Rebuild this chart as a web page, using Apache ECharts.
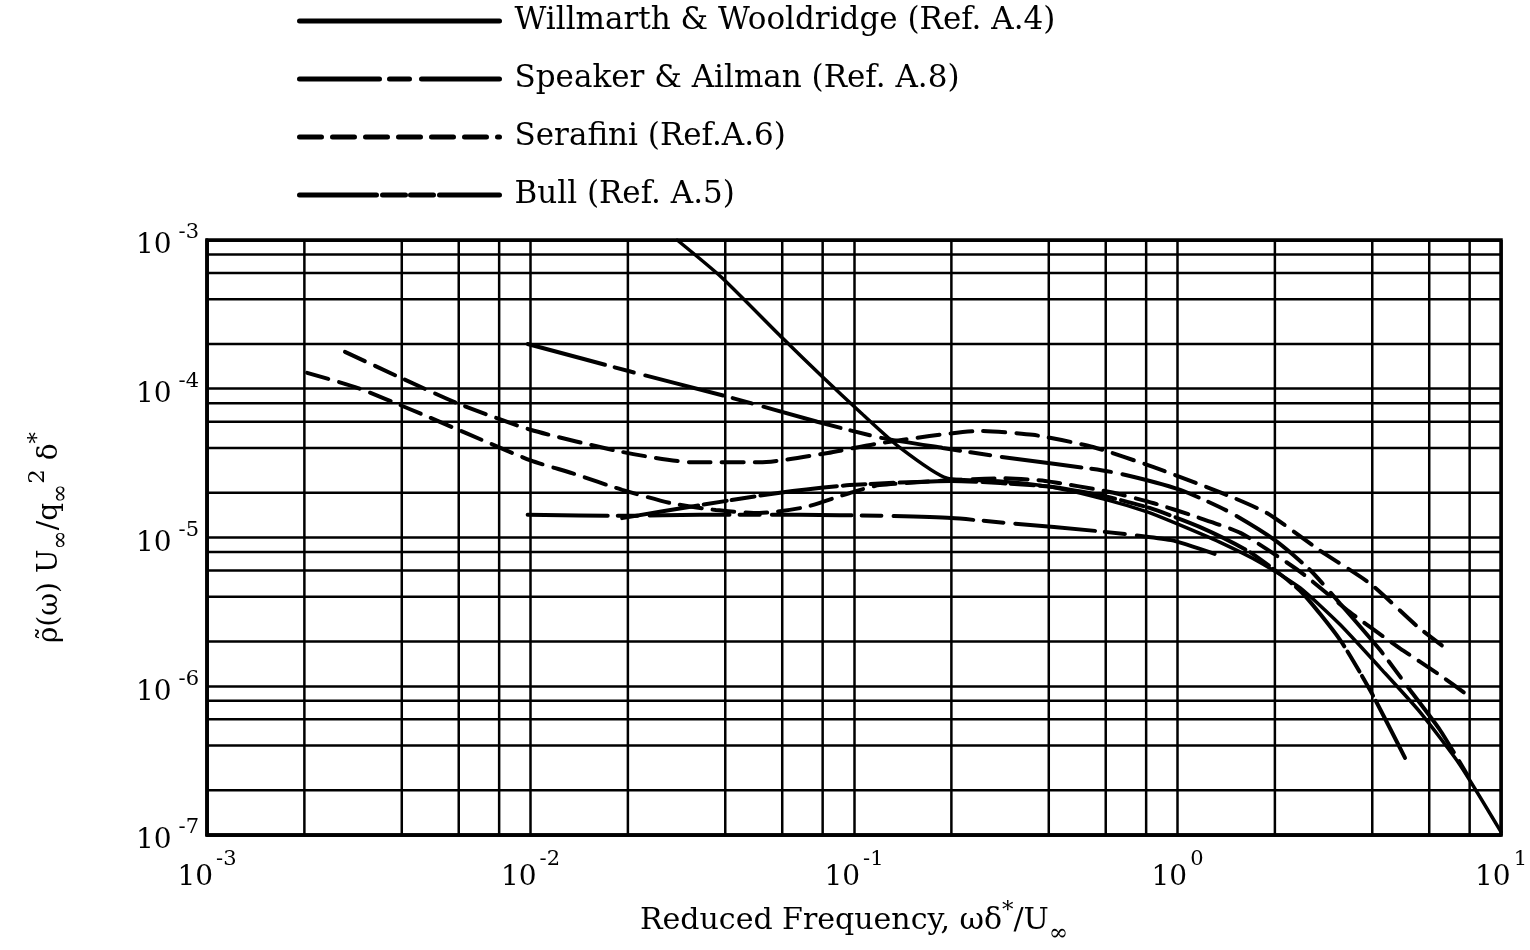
<!DOCTYPE html>
<html>
<head>
<meta charset="utf-8">
<script src="https://cdn.jsdelivr.net/npm/echarts/dist/echarts.min.js"></script>
<style>
  html, body { margin: 0; padding: 0; background: #fff; }
  #chart { width: 1530px; height: 950px; }
</style>
</head>
<body>
<div id="chart"></div>
<script>
// Reduced-frequency spectra of wall pressure fluctuations (log-log)

// Axis extents
const xRange = [0.001, 10];
const yRange = [1e-7, 1e-3];

// Minor grid positions inside each decade (2, 4, 6, 8 x 10^n)
const minorX = [2e-3, 4e-3, 6e-3, 8e-3, 2e-2, 4e-2, 6e-2, 8e-2, 0.2, 0.4, 0.6, 0.8, 2, 4, 6, 8];
const minorY = [2e-7, 4e-7, 6e-7, 8e-7, 2e-6, 4e-6, 6e-6, 8e-6, 2e-5, 4e-5, 6e-5, 8e-5, 2e-4, 4e-4, 6e-4, 8e-4];

// Legend names
const nameWW = 'Willmarth & Wooldridge (Ref. A.4)';
const nameSA = 'Speaker & Ailman (Ref. A.8)';
const nameSE = 'Serafini (Ref.A.6)';
const nameBU = 'Bull (Ref. A.5)';

// Willmarth & Wooldridge
const willmarth = [
  [0.0284, 1.0e-3], [0.039, 5.6e-4], [0.060, 2.2e-4], [0.080, 1.2e-4], [0.105, 6.9e-5],
  [0.139, 4.0e-5], [0.194, 2.5e-5], [0.28, 2.4e-5], [0.40, 2.2e-5], [0.605, 1.79e-5],
  [0.81, 1.48e-5], [1.02, 1.21e-5], [1.35, 9.3e-6], [1.8, 6.8e-6], [2.39, 4.6e-6],
  [3.18, 2.6e-6], [4.23, 1.33e-6], [5.62, 6.7e-7], [7.47, 2.96e-7], [10, 1.05e-7]
];

// Speaker & Ailman, upper curve
const speakerUpper = [
  [0.0098, 2.0e-4], [0.0205, 1.3e-4], [0.041, 8.8e-5], [0.077, 6.0e-5], [0.12, 4.7e-5],
  [0.188, 4.0e-5], [0.28, 3.5e-5], [0.63, 2.75e-5], [1.02, 2.09e-5], [1.45, 1.48e-5],
  [2.0, 9.6e-6], [2.57, 6.05e-6], [3.18, 3.6e-6], [4.23, 1.75e-6], [5.24, 9.4e-7],
  [6.47, 5.1e-7], [7.9, 2.5e-7]
];

// Speaker & Ailman, lower curve
const speakerLower = [
  [0.0098, 1.42e-5], [0.0197, 1.4e-5], [0.0334, 1.42e-5], [0.068, 1.42e-5], [0.12, 1.4e-5],
  [0.20, 1.35e-5], [0.30, 1.25e-5], [0.575, 1.1e-5], [0.955, 9.6e-6], [1.34, 7.6e-6]
];

// Serafini, upper curve
const serafiniUpper = [
  [0.00267, 1.77e-4], [0.00392, 1.2e-4], [0.00593, 8.0e-5], [0.010, 5.3e-5], [0.0192, 3.76e-5],
  [0.0318, 3.2e-5], [0.051, 3.2e-5], [0.083, 3.7e-5], [0.12, 4.3e-5], [0.245, 5.2e-5],
  [0.357, 4.9e-5], [0.548, 4.06e-5], [0.84, 2.98e-5], [1.35, 2.02e-5], [1.89, 1.46e-5],
  [2.75, 8.2e-6], [3.94, 4.9e-6], [5.54, 2.5e-6], [6.86, 1.75e-6]
];

// Serafini, lower curve
const serafiniLower = [
  [0.00204, 1.28e-4], [0.00293, 1.01e-4], [0.0043, 7.2e-5], [0.0063, 5.05e-5], [0.010, 3.3e-5],
  [0.0135, 2.7e-5], [0.0192, 2.09e-5], [0.0272, 1.7e-5], [0.0374, 1.53e-5], [0.051, 1.46e-5],
  [0.0706, 1.6e-5], [0.097, 1.99e-5], [0.12, 2.25e-5], [0.286, 2.5e-5], [0.39, 2.4e-5],
  [0.618, 2.02e-5], [0.845, 1.7e-5], [1.15, 1.37e-5], [1.57, 1.07e-5], [2.39, 5.9e-6],
  [3.41, 3.15e-6], [4.87, 1.8e-6], [6.47, 1.19e-6], [7.9, 8.7e-7]
];

// Bull
const bull = [
  [0.0192, 1.35e-5], [0.0334, 1.65e-5], [0.059, 2.0e-5], [0.097, 2.25e-5], [0.20, 2.4e-5],
  [0.40, 2.2e-5], [0.575, 1.93e-5], [0.82, 1.58e-5], [1.17, 1.18e-5], [1.67, 8.0e-6],
  [2.39, 4.4e-6], [3.18, 2.05e-6], [3.94, 9.4e-7], [5.05, 3.3e-7]
];

const FONT = 'DejaVu Serif';
const dashSA = [80, 10, 20, 12];
const dashSE = [22, 11];
const dashBU = [77, 6, 23, 5, 23, 6];

function curve(name, data, dash, width) {
  return {
    name: name,
    type: 'line',
    data: data,
    symbol: 'none',
    smooth: 0.2,
    z: 5,
    itemStyle: { color: 'rgba(0,0,0,0)' },
    lineStyle: { color: '#000', width: width || 4, type: dash || 'solid', cap: 'round' },
    emphasis: { disabled: true }
  };
}

// Straight ruled line of the graph paper, drawn through the axes
function ruled(points) {
  return {
    type: 'line',
    data: points,
    symbol: 'none',
    silent: true,
    z: 1,
    itemStyle: { color: 'rgba(0,0,0,0)' },
    lineStyle: { color: '#000', width: 2.5, type: 'solid' },
    emphasis: { disabled: true },
    tooltip: { show: false }
  };
}

const ruledSeries = minorX.map(v => ruled([[v, yRange[0]], [v, yRange[1]]]))
  .concat(minorY.map(v => ruled([[xRange[0], v], [xRange[1], v]])));

function powerLabel(v) {
  const e = Math.round(Math.log10(v));
  return '{b|10}{s|' + e + '}';
}

const chart = echarts.init(document.getElementById('chart'), null, { renderer: 'canvas' });

chart.setOption({
  animation: false,
  backgroundColor: '#fff',
  legend: {
    data: [nameWW, nameSA, nameSE, nameBU],
    orient: 'vertical',
    left: 297,
    top: 4,
    padding: 0,
    itemWidth: 200,
    itemHeight: 14,
    itemGap: 24,
    itemTextGap: 16,
    selectedMode: false,
    textStyle: { fontFamily: FONT, fontSize: 31, color: '#000', lineHeight: 34, padding: [0, 0, 0, 10] },
    lineStyle: { width: 5 }
  },
  grid: {
    left: 207, right: 29, top: 240, bottom: 115,
    containLabel: false,
    outerBoundsMode: 'none',
    show: true, borderColor: '#000', borderWidth: 3.5, backgroundColor: '#fff'
  },
  xAxis: {
    type: 'log',
    logBase: 10,
    min: xRange[0],
    max: xRange[1],
    name: '{a|Reduced Frequency, ωδ}{sup|*}{a|/U}{sub|∞}',
    nameLocation: 'middle',
    nameGap: 62,
    nameTextStyle: {
      rich: {
        a: { fontFamily: FONT, fontSize: 30, color: '#000' },
        sup: { fontFamily: FONT, fontSize: 23, color: '#000', padding: [0, 0, 20, 0] },
        sub: { fontFamily: FONT, fontSize: 23, color: '#000', padding: [26, 0, 0, 0] }
      }
    },
    axisLine: { show: true, lineStyle: { color: '#000', width: 3.5 } },
    axisTick: { show: false },
    splitLine: { show: true, lineStyle: { color: '#000', width: 2.5 } },
    axisLabel: {
      formatter: powerLabel,
      margin: 14,
      rich: {
        b: { fontFamily: FONT, fontSize: 28, color: '#000' },
        s: { fontFamily: FONT, fontSize: 21, color: '#000', padding: [0, 0, 36, 3] }
      }
    }
  },
  yAxis: {
    type: 'log',
    logBase: 10,
    min: yRange[0],
    max: yRange[1],
    name: '{a|ρ̃(ω) U}{sub|∞}{a|/q}{sub|∞}{sup|2}{a| δ}{sup|*}',
    nameLocation: 'middle',
    nameRotate: 90,
    nameGap: 134,
    nameTextStyle: {
      rich: {
        a: { fontFamily: FONT, fontSize: 28, color: '#000' },
        sup: { fontFamily: FONT, fontSize: 23, color: '#000', padding: [0, 0, 22, 0] },
        sub: { fontFamily: FONT, fontSize: 23, color: '#000', padding: [24, 0, 0, 0] }
      }
    },
    axisLine: { show: true, lineStyle: { color: '#000', width: 3.5 } },
    axisTick: { show: false },
    splitLine: { show: true, lineStyle: { color: '#000', width: 2.5 } },
    axisLabel: {
      formatter: powerLabel,
      margin: 8,
      padding: [12, 0, 0, 0],
      rich: {
        b: { fontFamily: FONT, fontSize: 28, color: '#000' },
        s: { fontFamily: FONT, fontSize: 21, color: '#000', padding: [0, 0, 26, 7] }
      }
    }
  },
  series: ruledSeries.concat([
    curve(nameWW, willmarth, 'solid', 3.5),
    curve(nameSA, speakerUpper, dashSA),
    curve(nameSA, speakerLower, dashSA),
    curve(nameSE, serafiniUpper, dashSE),
    curve(nameSE, serafiniLower, dashSE),
    curve(nameBU, bull, dashBU)
  ])
});
</script>
</body>
</html>
